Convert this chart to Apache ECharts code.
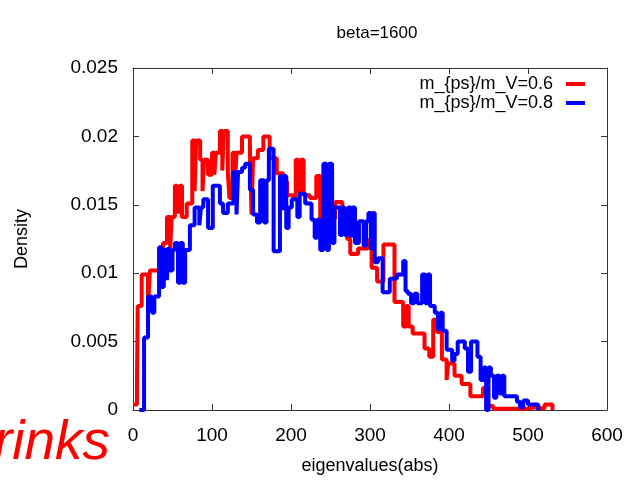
<!DOCTYPE html>
<html><head><meta charset="utf-8">
<script src="https://cdn.jsdelivr.net/npm/echarts@6/dist/echarts.min.js"></script>
<style>html,body{margin:0;padding:0;background:#fff}#c{width:629px;height:481px}</style>
</head><body><div id="c"></div>
<script>
// Histogram bins: left edge of each bin and its density (last entry closes the histogram)
const redStart = [0,5,6,11,19,21.5,38,43,47,49,53,56,59,62,68,75,78,80,85,88,90,95,100,103,105,110,113,115,120,122,126,129,131,138,148,150,152,158,165,173,182,190,195,201,206,209,212,216,224,232,237,241,256,265,271,275,285,297,302,309,317,331,342,346,349,354,369,375,380,385,391,397,399,407,416,427,443,448,456,500,509,521,531];
const redDensity = [0.0004,0.0020,0.0076,0.0099,0.0077,0.0102,0.0122,0.0141,0.0117,0.0141,0.0164,0.0145,0.0164,0.0141,0.0151,0.0197,0.0160,0.0197,0.0183,0.0160,0.0183,0.0172,0.0188,0.0172,0.0188,0.0204,0.0175,0.0204,0.0174,0.0155,0.0188,0.0165,0.0188,0.0200,0.0188,0.0143,0.0184,0.0190,0.0200,0.0184,0.0173,0.0167,0.0157,0.0156,0.0183,0.0160,0.0183,0.0157,0.0155,0.0171,0.0139,0.0140,0.0152,0.0139,0.0125,0.0114,0.0118,0.0124,0.0104,0.0094,0.0121,0.0079,0.0061,0.0076,0.0061,0.0056,0.0045,0.0039,0.0066,0.0057,0.0037,0.0022,0.0034,0.0025,0.0019,0.0010,0.0016,0.0003,0.0001,0.0002,0.0001,0.0004,0];
const blueStart = [8,14,19,24,27,33,36,39,43,45,47,50,53,57,60,63,66,72,78,84,86,89,95,101,110,114,120,127,131,133,138,142,148,152,157,161,166,169,172,178,186,189,191,194,197,201,208,211,218,226,230,233,237,241,245,248,252,255,262,265,268,272,276,278,281,286,292,295,298,301,303,306,310,316,325,334,342,345,348,352,356,360,366,370,373,376,382,386,389,392,397,404,407,411,420,424,428,436,440,444,447,450,453,457,460,464,467,470,476,486,490,494,500,513];
const blueDensity = [0,0.0053,0.0083,0.0071,0.0083,0.0119,0.0090,0.0117,0.0095,0.0119,0.0102,0.0117,0.0122,0.0093,0.0122,0.0093,0.0117,0.0135,0.0148,0.0135,0.0148,0.0154,0.0133,0.0164,0.0151,0.0144,0.0151,0.0174,0.0143,0.0174,0.0177,0.0180,0.0161,0.0143,0.0137,0.0168,0.0137,0.0168,0.0191,0.0116,0.0171,0.0146,0.0171,0.0133,0.0148,0.0154,0.0141,0.0158,0.0151,0.0139,0.0126,0.0139,0.0117,0.0180,0.0117,0.0180,0.0122,0.0148,0.0128,0.0148,0.0128,0.0148,0.0126,0.0148,0.0122,0.0138,0.0120,0.0138,0.0144,0.0117,0.0144,0.0108,0.0111,0.0086,0.0096,0.0099,0.0109,0.0087,0.0085,0.0078,0.0085,0.0078,0.0099,0.0078,0.0099,0.0076,0.0071,0.0059,0.0071,0.0058,0.0044,0.0036,0.0041,0.0050,0.0045,0.0028,0.0050,0.0039,0.0022,0.0031,0,0.0031,0.0025,0.0009,0.0025,0.0012,0.0025,0.0010,0.0010,0.0006,0.0002,0.0007,0.0004,0];
const seriesNames = ['m_{ps}/m_V=0.6', 'm_{ps}/m_V=0.8'];
const xTicks = [0,100,200,300,400,500,600];
const yTicks = [0,0.005,0.01,0.015,0.02,0.025];
const titleText = 'beta=1600';
const xName = 'eigenvalues(abs)';
const yName = 'Density';
const sideNote = 'rinks';

const pairs = (xs, ys) => xs.map((x, i) => [x, ys[i]]);
const font = 'Liberation Sans';
const axisCol = '#333';
const baseAxis = {
  axisLine: {show: true, onZero: false, lineStyle: {color: axisCol, width: 1}},
  axisTick: {show: true, inside: true, length: 6, lineStyle: {color: axisCol}},
  splitLine: {show: false}
};
const chart = echarts.init(document.getElementById('c'));
chart.setOption({
  animation: false,
  backgroundColor: '#fff',
  title: {text: titleText, left: 372, top: 20, textAlign: 'center',
    textStyle: {fontFamily: font, fontSize: 17, fontWeight: 'normal', color: '#000'}},
  legend: {
    data: seriesNames, orient: 'vertical', right: 39, top: 70, align: 'right',
    itemWidth: 19, itemHeight: 4, itemGap: 1, icon: 'rect',
    textStyle: {fontFamily: font, fontSize: 18, color: '#000', padding: [0, 8, 0, 0]}
  },
  grid: {left: 133, right: 22, top: 68, bottom: 71},
  xAxis: [
    Object.assign({}, baseAxis, {type: 'value', min: 0, max: 600, interval: 100, position: 'bottom',
      name: xName, nameLocation: 'middle', nameGap: 47,
      nameTextStyle: {fontFamily: font, fontSize: 18, color: '#000'},
      axisLabel: {margin: 16, fontFamily: font, fontSize: 19, color: '#000',
        formatter: v => xTicks.includes(v) ? String(v) : ''}}),
    Object.assign({}, baseAxis, {type: 'value', min: 0, max: 600, interval: 100, position: 'top',
      axisLabel: {show: false}})
  ],
  yAxis: [
    Object.assign({}, baseAxis, {type: 'value', min: 0, max: 0.025, interval: 0.005, position: 'left',
      name: yName, nameLocation: 'middle', nameGap: 102, nameRotate: 90,
      nameTextStyle: {fontFamily: font, fontSize: 18, color: '#000'},
      axisLabel: {margin: 15, fontFamily: font, fontSize: 19, color: '#000',
        formatter: v => { const t = yTicks.find(y => Math.abs(y - v) < 1e-9); return t === undefined ? '' : String(t); }}}),
    Object.assign({}, baseAxis, {type: 'value', min: 0, max: 0.025, interval: 0.005, position: 'right',
      axisLabel: {show: false}})
  ],
  series: [
    {name: seriesNames[0], type: 'line', step: 'end', showSymbol: false, clip: false,
      data: pairs(redStart, redDensity), color: '#ff0000',
      lineStyle: {color: '#ff0000', width: 4}},
    {name: seriesNames[1], type: 'line', step: 'end', showSymbol: false, clip: false,
      data: pairs(blueStart, blueDensity), color: '#0000ff',
      lineStyle: {color: '#0000ff', width: 4}}
  ],
  graphic: [{
    type: 'text', left: -6, top: 416,
    style: {text: sideNote, font: 'italic 55px "Liberation Sans"', fill: '#ff0000'}
  }]
});
</script></body></html>
